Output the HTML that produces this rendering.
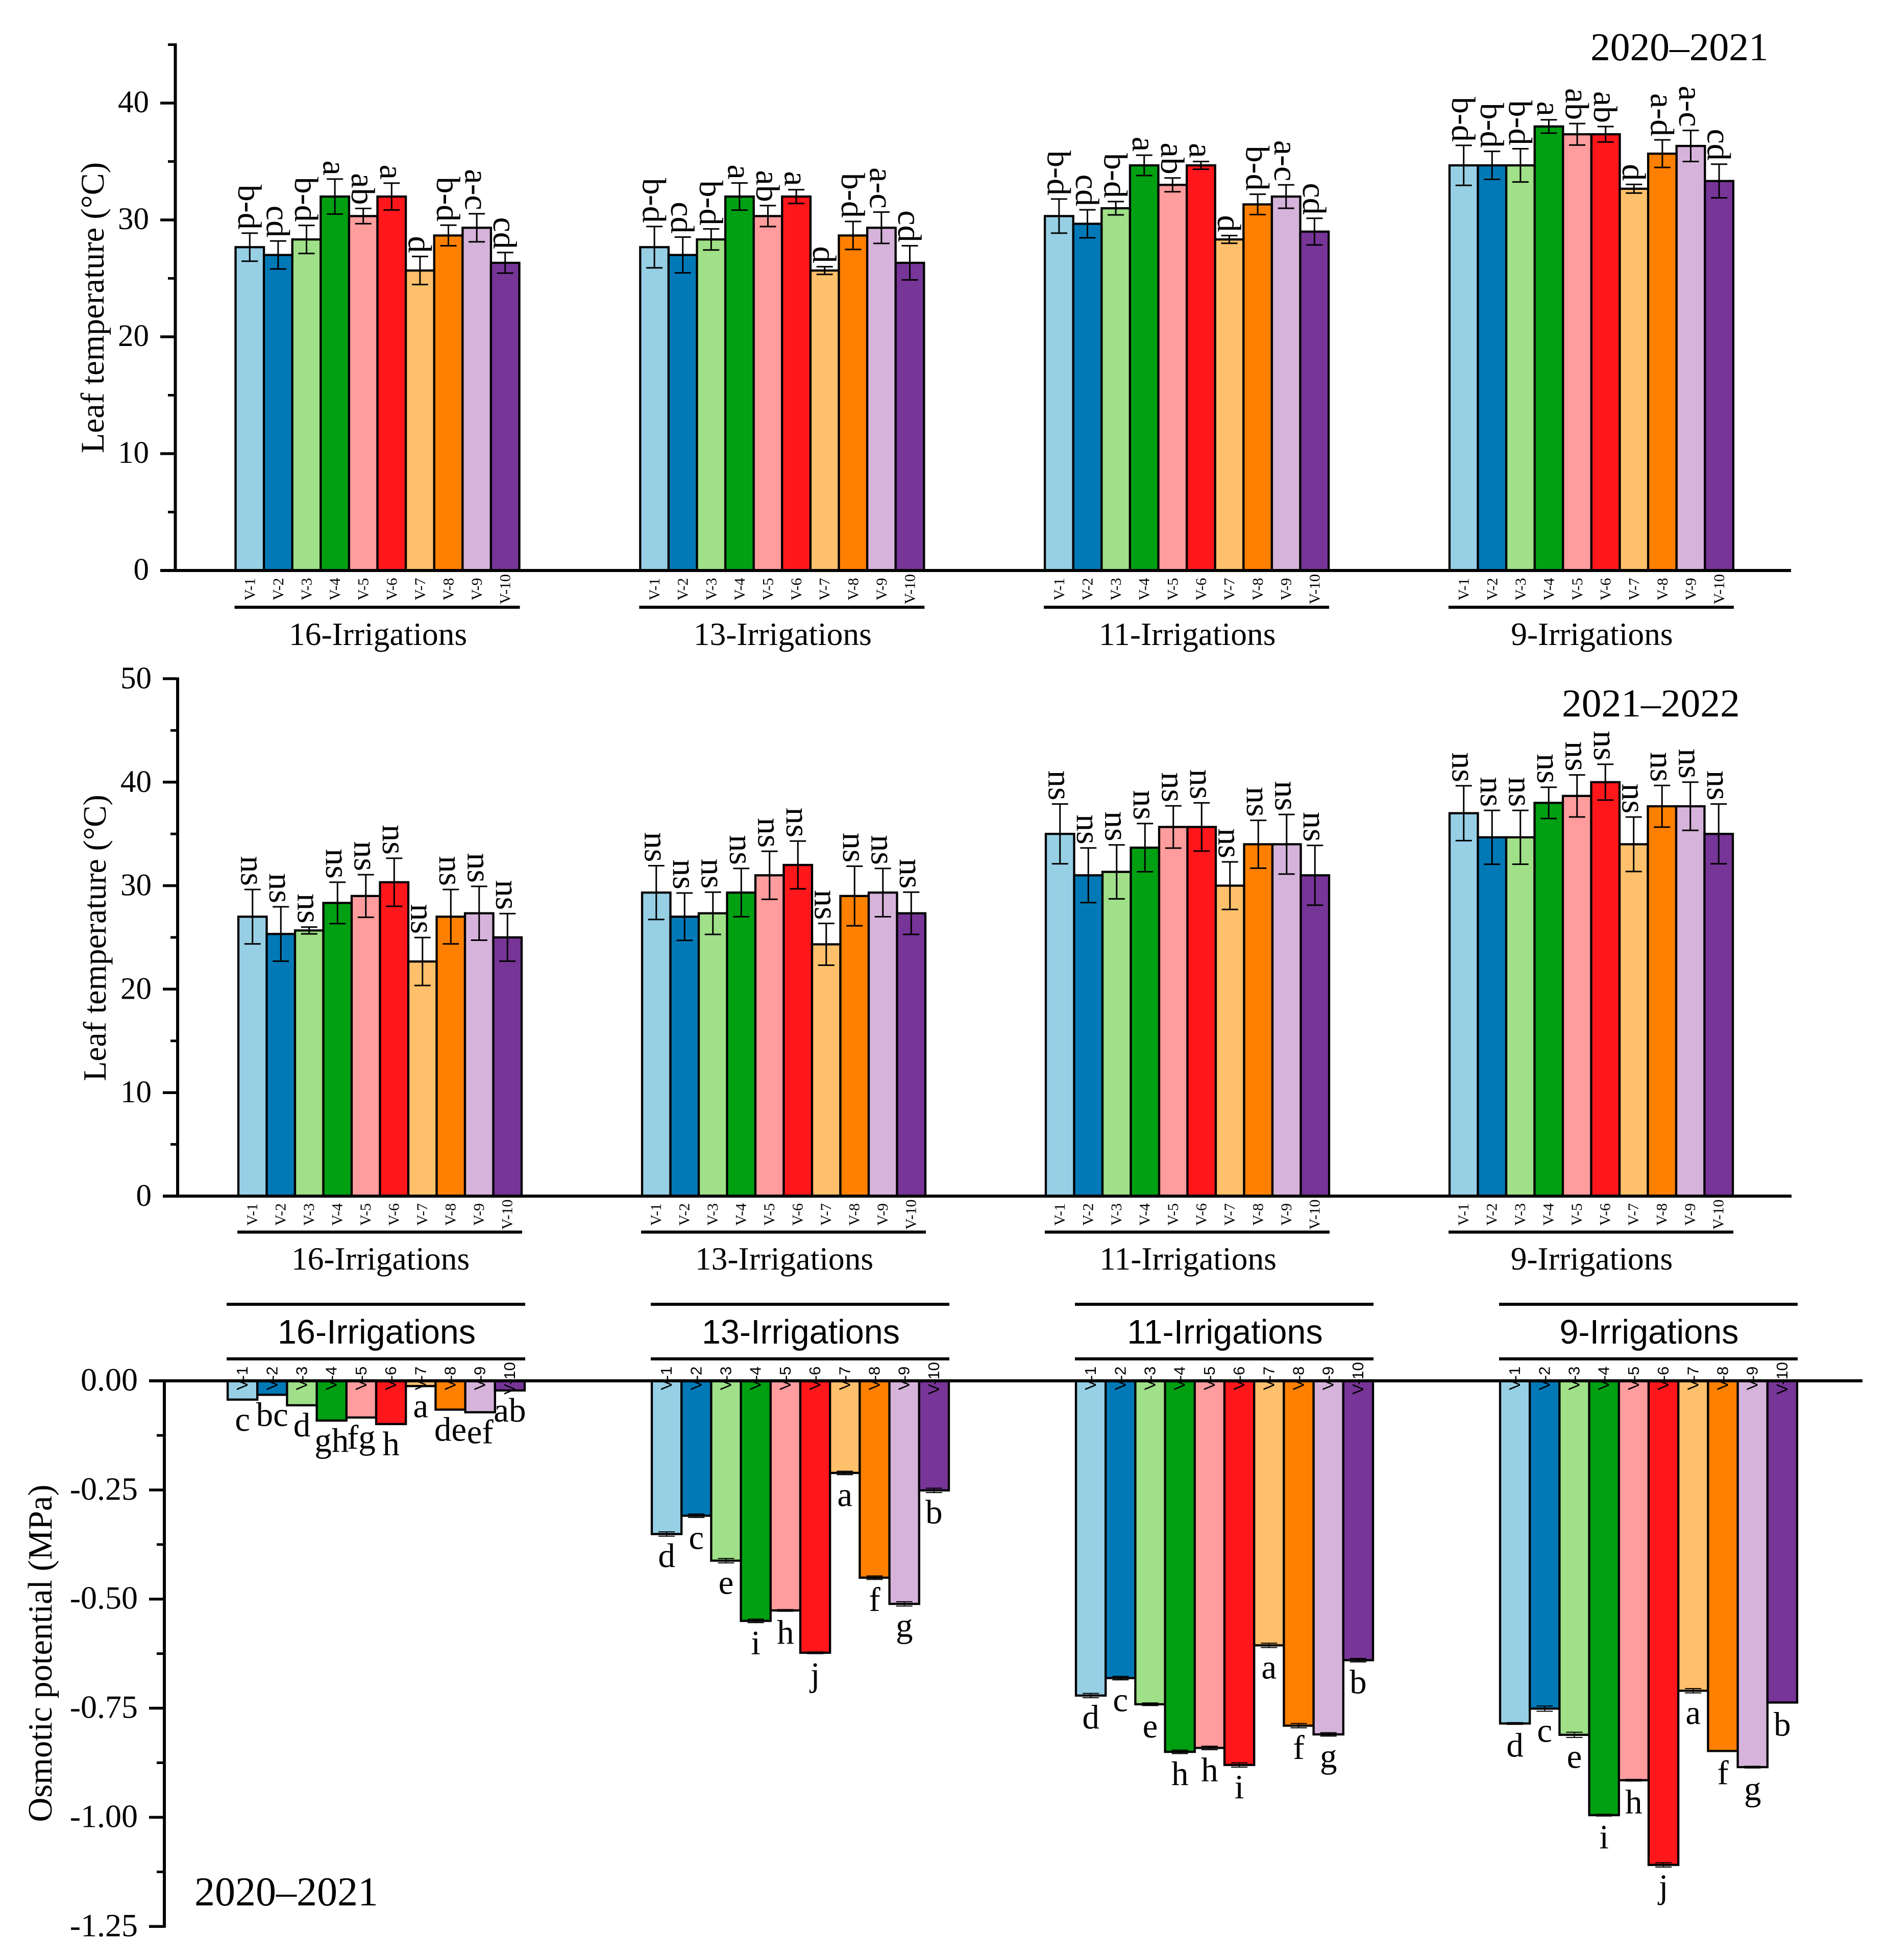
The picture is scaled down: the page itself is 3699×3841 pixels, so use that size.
<!DOCTYPE html>
<html lang="en">
<head>
<meta charset="utf-8">
<title>Leaf temperature and osmotic potential by irrigation regime</title>
<style>
html,body{margin:0;padding:0;background:#fff;}
svg{display:block;font-family:"Liberation Serif",serif;}
</style>
</head>
<body>
<svg id="figure" xmlns="http://www.w3.org/2000/svg" width="3699" height="3841" viewBox="0 0 3699 3841">
<rect x="0" y="0" width="3699" height="3841" fill="#ffffff"/>
<text transform="translate(203 603) rotate(-90)" text-anchor="middle" font-size="64.5">Leaf temperature (°C)</text>
<text transform="translate(207 1838) rotate(-90)" text-anchor="middle" font-size="63.5">Leaf temperature (°C)</text>
<text transform="translate(101 3240) rotate(-90)" text-anchor="middle" font-size="66.5">Osmotic potential (MPa)</text>
<text x="3116" y="118" font-size="77.5">2020–2021</text>
<text x="3060" y="1404" font-size="77.5">2021–2022</text>
<text x="381" y="3734" font-size="80">2020–2021</text>
</svg>
<script>
const varieties = ['V-1','V-2','V-3','V-4','V-5','V-6','V-7','V-8','V-9','V-10'];
const regimes = ['16-Irrigations','13-Irrigations','11-Irrigations','9-Irrigations'];
const palette = ['#97CFE5','#0279B7','#A0E088','#00A012','#FF9C9D','#FF171B','#FFC06B','#FF8000','#D6B3DB','#773598'];

const leafA16 = [27.67,27,28.33,32,30.33,32,25.67,28.67,29.33,26.33];
const leafA13 = [27.67,27,28.33,32,30.33,32,25.67,28.67,29.33,26.33];
const leafA11 = [30.33,29.67,31,34.67,33,34.67,28.33,31.33,32,29];
const leafA9 = [34.67,34.67,34.67,38,37.33,37.33,32.67,35.67,36.33,33.33];
const leafAErr16 = [1.2,1.2,1.2,1.5,0.65,1.15,1.2,0.88,1.2,0.88];
const leafAErr13 = [1.77,1.53,0.9,1.16,0.9,0.59,0.33,1.2,1.34,1.46];
const leafAErr11 = [1.46,1.2,0.57,0.87,0.59,0.33,0.33,0.87,1.0,1.14];
const leafAErr9 = [1.71,1.2,1.42,0.57,0.92,0.66,0.37,1.18,1.33,1.44];
const leafAMarks16 = ['b-d','cd','b-d','a','ab','a','d','b-d','a-c','cd'];
const leafAMarks13 = ['b-d','cd','b-d','a','ab','a','d','b-d','a-c','cd'];
const leafAMarks11 = ['b-d','cd','b-d','a','ab','a','d','b-d','a-c','cd'];
const leafAMarks9 = ['b-d','b-d','b-d','a','ab','ab','d','a-d','a-c','cd'];

const leafB16 = [27,25.33,25.67,28.33,29,30.33,22.67,27,27.33,25];
const leafB13 = [29.33,27,27.33,29.33,31,32,24.33,29,29.33,27.33];
const leafB11 = [35,31,31.33,33.67,35.67,35.67,30,34,34,31];
const leafB9 = [37,34.67,34.67,38,38.67,40,34,37.67,37.67,35];
const leafBErr16 = [2.63,2.63,0.33,2.0,2.06,2.32,2.32,2.63,2.6,2.3];
const leafBErr13 = [2.6,2.29,2.04,2.33,2.32,2.31,2.02,2.88,2.33,2.04];
const leafBErr11 = [2.89,2.64,2.61,2.33,2.04,2.33,2.3,2.31,2.88,2.89];
const leafBErr9 = [2.65,2.6,2.6,1.51,2.03,1.73,2.63,2.01,2.33,2.89];
const leafBMarks = ['ns','ns','ns','ns','ns','ns','ns','ns','ns','ns'];

const osmo16 = [-0.043,-0.032,-0.056,-0.091,-0.084,-0.099,-0.012,-0.066,-0.072,-0.022];
const osmo13 = [-0.351,-0.309,-0.412,-0.55,-0.526,-0.623,-0.211,-0.451,-0.511,-0.251];
const osmo11 = [-0.721,-0.681,-0.741,-0.85,-0.841,-0.88,-0.606,-0.79,-0.81,-0.64];
const osmo9 = [-0.785,-0.751,-0.811,-0.995,-0.915,-1.109,-0.71,-0.848,-0.885,-0.737];
const osmoErr16 = [0,0,0,0,0,0,0,0,0,0];
const osmoErr13 = [0.005,0.004,0.005,0.004,0.002,0.002,0.004,0.004,0.005,0.005];
const osmoErr11 = [0.005,0.004,0.003,0.004,0.004,0.005,0.005,0.005,0.004,0.004];
const osmoErr9 = [0.002,0.006,0.006,0.002,0.002,0.005,0.005,0.001,0.002,0.001];
const osmoMarks16 = ['c','bc','d','gh','fg','h','a','de','ef','ab'];
const osmoMarks13 = ['d','c','e','i','h','j','a','f','g','b'];
const osmoMarks11 = ['d','c','e','h','h','i','a','f','g','b'];
const osmoMarks9 = ['d','c','e','i','h','j','a','f','g','b'];

const leafATicks = [0,10,20,30,40];
const leafAMinorTicks = [5,15,25,35,45];
const leafBTicks = [0,10,20,30,40,50];
const leafBMinorTicks = [5,15,25,35,45];
const osmoTicks = [0,-0.25,-0.5,-0.75,-1,-1.25];
const osmoMinorTicks = [-0.125,-0.375,-0.625,-0.875,-1.125];

const svg = document.getElementById('figure');
const NS = 'http://www.w3.org/2000/svg';

function make(tag, attrs, parent) {
  const el = document.createElementNS(NS, tag);
  for (const k in attrs) el.setAttribute(k, attrs[k]);
  (parent || svg).appendChild(el);
  return el;
}

function drawPanel(cfg) {
  const panel = make('g', {});
  
  
  const yScale = v => cfg.y0 - v * cfg.unit;
  const xLeft = (g, b) => cfg.left + g * cfg.period + b * cfg.barW;
  const xMid = (g, b) => xLeft(g, b) + cfg.barW / 2;

  regimes.forEach((regime, g) => {
    const group = make('g', {}, panel);
    
    

    cfg.values[g].forEach((v, b) => {
      const top = Math.min(yScale(v), yScale(0));
      const h = Math.abs(yScale(v) - yScale(0));
      const bar = make('rect', {x: xLeft(g, b), y: top, width: cfg.barW, height: h, fill: palette[b], stroke: '#000', 'stroke-width': 4.3}, group);
      
      
    });

    cfg.values[g].forEach((v, b) => {
      const e = cfg.errors[g][b];
      const c = xMid(g, b);
      const yA = yScale(v + e);
      const yB = yScale(v - e);
      const stem = make('line', {x1: c, x2: c, y1: yA, y2: yB, stroke: '#000', 'stroke-width': cfg.errW}, group);
      
      
      const capA = make('line', {x1: c - 16, x2: c + 16, y1: yA, y2: yA, stroke: '#000', 'stroke-width': cfg.errW}, group);
      
      
      const capB = make('line', {x1: c - 16, x2: c + 16, y1: yB, y2: yB, stroke: '#000', 'stroke-width': cfg.errW}, group);
      
      

      let mark;
      if (cfg.down) {
        mark = make('text', {x: c, y: yScale(v) + cfg.markGaps[g], 'text-anchor': 'middle', 'font-size': 67}, group);
      } else {
        const mx = c - 22.5;
        const my = yA - 7;
        mark = make('text', {x: mx, y: my, 'text-anchor': 'end', 'font-size': 66, transform: 'rotate(90 ' + mx + ' ' + my + ')'}, group);
      }
      
      
      mark.textContent = cfg.marks[g][b];
    });
  });

  const axisX = make('line', {x1: cfg.axisLeft, x2: cfg.axisRight, y1: cfg.y0, y2: cfg.y0, stroke: '#000', 'stroke-width': 6}, panel);
  
  

  const yEnd = cfg.down ? yScale(cfg.ticks[cfg.ticks.length - 1]) : yScale(cfg.axisMax);
  const axisY = make('line', {x1: cfg.axisX, x2: cfg.axisX, y1: cfg.y0, y2: yEnd - (cfg.down ? -2.5 : 2.5), stroke: '#000', 'stroke-width': 6}, panel);
  
  

  cfg.ticks.forEach(t => {
    const tick = make('line', {x1: cfg.axisLeft, x2: cfg.axisX, y1: yScale(t), y2: yScale(t), stroke: '#000', 'stroke-width': 5.5}, panel);
    
    
    const label = make('text', {x: cfg.tickLabelX, y: yScale(t) + cfg.tickLabelDy, 'text-anchor': 'end', 'font-size': cfg.tickFont}, panel);
    
    
    label.textContent = cfg.down ? t.toFixed(2) : String(t);
  });
  cfg.minorTicks.forEach(t => {
    const tick = make('line', {x1: cfg.axisLeft + 15, x2: cfg.axisX, y1: yScale(t), y2: yScale(t), stroke: '#000', 'stroke-width': 5}, panel);
    
    
  });

  regimes.forEach((regime, g) => {
    varieties.forEach((name, b) => {
      const tx = xMid(g, b) + cfg.catDx;
      const label = make('text', {x: tx, y: cfg.catY, 'text-anchor': 'middle', 'font-size': cfg.catFont, transform: 'rotate(-90 ' + tx + ' ' + cfg.catY + ')', 'font-family': cfg.sans ? '"Liberation Sans",sans-serif' : '"Liberation Serif",serif'}, panel);
      
      
      label.textContent = name;
    });
    const x1 = xLeft(g, 0) - 2;
    const x2 = xLeft(g, 10) + 1;
    cfg.groupLines.forEach(ly => {
      const rule = make('line', {x1: x1, x2: x2, y1: ly, y2: ly, stroke: '#000', 'stroke-width': 6}, panel);
      
      
    });
    const title = make('text', {x: (x1 + x2) / 2 + 1.5, y: cfg.groupLabelY, 'text-anchor': 'middle', 'font-size': cfg.groupFont, 'font-family': cfg.sans ? '"Liberation Sans",sans-serif' : '"Liberation Serif",serif'}, panel);
    
    
    title.textContent = regime;
  });
}

drawPanel({
  name: 'leaf-temperature-2020-2021-chart', y0: 1118, unit: 22.9, left: 461.5, period: 792.8, barW: 55.6,
  values: [leafA16, leafA13, leafA11, leafA9], errors: [leafAErr16, leafAErr13, leafAErr11, leafAErr9],
  marks: [leafAMarks16, leafAMarks13, leafAMarks11, leafAMarks9], errW: 3,
  axisLeft: 314, axisRight: 3509, axisX: 343.5, axisMax: 45, ticks: leafATicks, minorTicks: leafAMinorTicks,
  tickLabelX: 292, tickLabelDy: 18, tickFont: 61, catDx: 10, catY: 1154.5, catFont: 30, groupLines: [1190], groupLabelY: 1264, groupFont: 63.5
});

drawPanel({
  name: 'leaf-temperature-2021-2022-chart', y0: 2344, unit: 20.28, left: 467, period: 791, barW: 55.5,
  values: [leafB16, leafB13, leafB11, leafB9], errors: [leafBErr16, leafBErr13, leafBErr11, leafBErr9],
  marks: [leafBMarks, leafBMarks, leafBMarks, leafBMarks], errW: 3,
  axisLeft: 319, axisRight: 3510, axisX: 348, axisMax: 50, ticks: leafBTicks, minorTicks: leafBMinorTicks,
  tickLabelX: 297, tickLabelDy: 19, tickFont: 61, catDx: 9, catY: 2380, catFont: 30, groupLines: [2414.5], groupLabelY: 2488, groupFont: 63.5
});

drawPanel({
  name: 'osmotic-potential-chart', y0: 2706, unit: 855.4, left: 446, period: 831, barW: 58.2, down: true,
  values: [osmo16, osmo13, osmo11, osmo9], errors: [osmoErr16, osmoErr13, osmoErr11, osmoErr9],
  marks: [osmoMarks16, osmoMarks13, osmoMarks11, osmoMarks9], markGaps: [61, 65, 65, 65], errW: 2,
  axisLeft: 292, axisRight: 3649, axisX: 322, ticks: osmoTicks, minorTicks: osmoMinorTicks,
  tickLabelX: 270, tickLabelDy: 19, tickFont: 64, catDx: 10, catY: 2701, catFont: 31, groupLines: [2556, 2663], groupLabelY: 2633, groupFont: 66.5, sans: true
});
</script>
</body>
</html>
